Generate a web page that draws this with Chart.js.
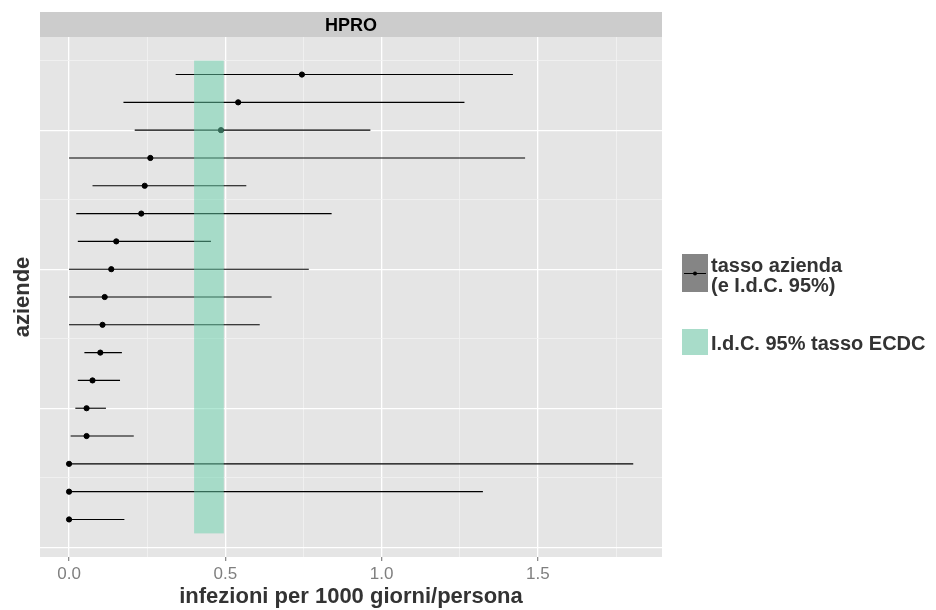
<!DOCTYPE html>
<html>
<head>
<meta charset="utf-8">
<script src="https://cdn.jsdelivr.net/npm/chart.js@4.4.1/dist/chart.umd.min.js"></script>
<style>
  html, body { margin: 0; padding: 0; background: #ffffff; }
  #wrap { width: 936px; height: 610px; }
</style>
</head>
<body>
<div id="wrap"><canvas id="c"></canvas></div>
<script>
// Facet label
const facet = 'HPRO';

// Row positions of the aziende, top to bottom
const rowPos = [17, 16, 15, 14, 13, 12, 11, 10, 9, 8, 7, 6, 5, 4, 3, 2, 1];

// Rate per azienda (infezioni per 1000 giorni/persona) and its 95% interval
const tasso = [0.745, 0.541, 0.486, 0.260, 0.242, 0.231, 0.151, 0.135, 0.114, 0.107, 0.100, 0.075, 0.056, 0.056, 0.000, 0.000, 0.000];
const idcLow = [0.341, 0.174, 0.210, 0.000, 0.075, 0.023, 0.028, 0.000, 0.000, 0.000, 0.049, 0.028, 0.020, 0.005, 0.000, 0.000, 0.000];
const idcHigh = [1.420, 1.265, 0.964, 1.459, 0.567, 0.840, 0.454, 0.767, 0.648, 0.610, 0.169, 0.163, 0.118, 0.207, 1.805, 1.324, 0.177];

// ECDC reference interval and the vertical extent of the band
const ecdcRange = [0.40, 0.495];
const ecdcRows = [0.5, 17.5];

// Axis breaks
const xBreaks = [0, 0.25, 0.5, 0.75, 1.0, 1.25, 1.5, 1.75];
const xMajor = [0, 0.5, 1.0, 1.5];
const xTickLabels = ['0.0', '0.5', '1.0', '1.5'];
const yBreaks = [0, 2.5, 5, 7.5, 10, 12.5, 15, 17.5];
const yMajor = [0, 5, 10, 15];

// Text
const xTitle = 'infezioni per 1000 giorni/persona';
const yTitle = 'aziende';
const legendRate = ['tasso azienda', '(e I.d.C. 95%)'];
const legendEcdc = 'I.d.C. 95% tasso ECDC';

const FONT = "'Liberation Sans', Arial, sans-serif";
const isMajor = (list, v) => list.some(m => Math.abs(m - v) < 1e-9);

// One horizontal segment per azienda for the interval
const intervalSets = rowPos.map((y, i) => ({
  type: 'line',
  data: [{ x: idcLow[i], y: y }, { x: idcHigh[i], y: y }],
  borderColor: '#000000',
  borderWidth: 1.1,
  pointRadius: 0,
  pointHoverRadius: 0,
  fill: false,
  order: 2
}));

const pointSet = {
  type: 'scatter',
  data: rowPos.map((y, i) => ({ x: tasso[i], y: y })),
  backgroundColor: '#000000',
  borderColor: '#000000',
  pointRadius: 2.6,
  pointHoverRadius: 2.6,
  order: 1
};

// Panel background, facet strip, ECDC band and legend
const panelPlugin = {
  id: 'panel',
  beforeDraw(chart) {
    const { ctx, chartArea: a } = chart;
    ctx.save();
    ctx.fillStyle = '#e5e5e5';
    ctx.fillRect(a.left, a.top, a.right - a.left, a.bottom - a.top);
    ctx.fillStyle = '#cccccc';
    ctx.fillRect(a.left, 12, a.right - a.left, a.top - 12);
    ctx.fillStyle = '#000000';
    ctx.font = 'bold 18px ' + FONT;
    ctx.textAlign = 'center';
    ctx.textBaseline = 'alphabetic';
    ctx.fillText(facet, (a.left + a.right) / 2, 31);
    ctx.restore();
  },
  afterDatasetsDraw(chart) {
    const { ctx, scales: { x, y } } = chart;
    const x0 = x.getPixelForValue(ecdcRange[0]);
    const x1 = x.getPixelForValue(ecdcRange[1]);
    const y0 = y.getPixelForValue(ecdcRows[1]);
    const y1 = y.getPixelForValue(ecdcRows[0]);
    ctx.save();
    ctx.fillStyle = 'rgba(103, 209, 171, 0.5)';
    ctx.fillRect(x0, y0, x1 - x0, y1 - y0);
    ctx.restore();
  },
  afterDraw(chart) {
    const { ctx } = chart;
    ctx.save();
    // key: rate with interval
    ctx.fillStyle = '#858585';
    ctx.fillRect(682, 254, 26, 38);
    ctx.strokeStyle = '#000000';
    ctx.lineWidth = 1;
    ctx.beginPath();
    ctx.moveTo(684, 273.5);
    ctx.lineTo(706, 273.5);
    ctx.stroke();
    ctx.beginPath();
    ctx.arc(695, 273.5, 2, 0, Math.PI * 2);
    ctx.fillStyle = '#000000';
    ctx.fill();
    // key: ECDC band
    ctx.fillStyle = '#a8dcc9';
    ctx.fillRect(682, 329, 26, 26);
    // labels
    ctx.fillStyle = '#333333';
    ctx.font = 'bold 20px ' + FONT;
    ctx.textAlign = 'left';
    ctx.textBaseline = 'alphabetic';
    ctx.fillText(legendRate[0], 711, 272);
    ctx.fillText(legendRate[1], 711, 292);
    ctx.fillText(legendEcdc, 711, 350);
    ctx.restore();
  }
};

new Chart(document.getElementById('c'), {
  data: { datasets: [...intervalSets, pointSet] },
  options: {
    responsive: true,
    maintainAspectRatio: false,
    animation: false,
    events: [],
    layout: { padding: { top: 37, right: 274, bottom: 0, left: 0 } },
    plugins: { legend: { display: false }, tooltip: { enabled: false } },
    scales: {
      x: {
        type: 'linear',
        min: -0.093,
        max: 1.897,
        afterBuildTicks(scale) { scale.ticks = xBreaks.map(v => ({ value: v })); },
        afterFit(scale) { scale.height = 53; },
        border: { display: false },
        grid: {
          color: c => isMajor(xMajor, c.tick.value) ? '#ffffff' : '#f2f2f2',
          lineWidth: c => isMajor(xMajor, c.tick.value) ? 1.3 : 0.8,
          tickColor: c => isMajor(xMajor, c.tick.value) ? '#8c8c8c' : 'rgba(0,0,0,0)',
          tickLength: 4,
          drawTicks: true
        },
        ticks: {
          autoSkip: false,
          maxRotation: 0,
          padding: 3,
          color: '#7f7f7f',
          font: { family: FONT, size: 17 },
          callback: v => {
            const k = xMajor.findIndex(m => Math.abs(m - v) < 1e-9);
            return k >= 0 ? xTickLabels[k] : '';
          }
        },
        title: {
          display: true,
          text: xTitle,
          color: '#333333',
          font: { family: FONT, size: 22, weight: 'bold' },
          padding: { top: 0, bottom: 0 }
        }
      },
      y: {
        type: 'linear',
        min: -0.35,
        max: 18.35,
        afterBuildTicks(scale) { scale.ticks = yBreaks.map(v => ({ value: v })); },
        afterFit(scale) { scale.width = 40; },
        border: { display: false },
        grid: {
          color: c => isMajor(yMajor, c.tick.value) ? '#ffffff' : '#f2f2f2',
          lineWidth: c => isMajor(yMajor, c.tick.value) ? 1.3 : 0.8,
          drawTicks: false
        },
        ticks: { display: false },
        title: {
          display: true,
          text: yTitle,
          color: '#333333',
          font: { family: FONT, size: 22, weight: 'bold' },
          padding: { top: 10, bottom: 0 }
        }
      }
    }
  },
  plugins: [panelPlugin]
});
</script>
</body>
</html>
